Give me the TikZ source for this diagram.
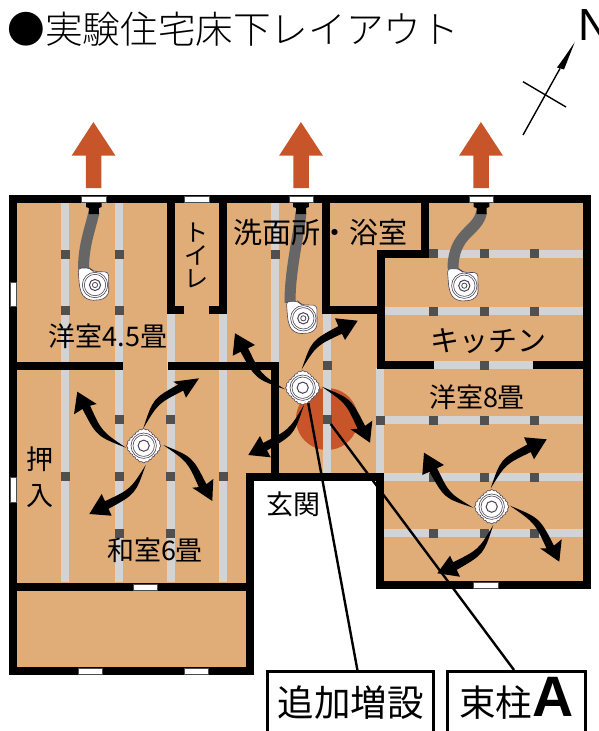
\documentclass[tikz,border=0pt]{standalone}
\usepackage{fontspec}
\usetikzlibrary{calc}
\setmainfont{Noto Sans CJK JP}
\newfontfamily\titlefont{Noto Sans CJK JP Light}
\newfontfamily\latinfont{Liberation Sans}
\definecolor{floortan}{HTML}{E0AC78}
\definecolor{ventred}{HTML}{C85529}
\definecolor{beamgray}{HTML}{D3D3D3}
\definecolor{postgray}{HTML}{505050}
\definecolor{hosegray}{HTML}{666666}
\definecolor{ringgray}{HTML}{4A4454}
\tikzset{
    wall/.style={draw=black,line width=8pt,line join=miter},
    beam/.style={draw=beamgray,line width=8pt},
    post/.style={draw=postgray,line width=9pt},
    window/.style={draw=black!70,line width=0.5pt,fill=white},
    vent/.style={fill=ventred},
    hose/.style={draw=hosegray,line width=11pt},
    room/.style={inner sep=0pt,font=\fontsize{27}{32}\selectfont},
    tallroom/.style={inner sep=0pt,align=center,font=\fontsize{27}{36}\selectfont},
    callout/.style={draw=black,line width=3pt,inner sep=0pt,anchor=north west,align=center,
        text height=45pt,text depth=33pt,font=\fontsize{36.5}{40}\selectfont},
    leader/.style={draw=black,line width=2.4pt},
    fanring/.style={draw=ringgray,line width=0.6pt},
    nozzle/.pic={
        \fill[black] (-7.8,0)--(7.8,0)--(7.8,4)--(5,5)--(5,11)--(-5,11)--(-5,5)--(-7.8,4)--cycle;
    },
    swirlfan/.pic={
        \draw[fill=white,draw=ringgray,line width=0.6pt] plot[smooth cycle,variable=\t,domain=0:352.5,samples=48]
            (\t:{15.6+1.1*cos(4*\t)+0.5*cos(24*\t)});
        \draw[fanring] (0,0) circle (12.7pt);
        \draw[fanring] (0,0) circle (10.7pt);
        \draw[fanring,line width=1pt] (0,0) circle (5.6pt);
    },
    hosefan/.pic={
        \draw[fill=white,draw=ringgray,line width=0.6pt,rounded corners=3.5pt]
            (-17,-17)--(-5,-17)--(-2,-13.5)--(13.5,-13)--(13.8,9)--(8,14.5)--(-5,15.5)--(-12.5,11)--(-15.5,2)--cycle;
        \draw[fanring] (0,0) circle (12.7pt);
        \draw[fanring] (0,0) circle (10.7pt);
        \draw[fanring,line width=1pt] (0,0) circle (5.6pt);
        \draw[fanring,line width=0.8pt] (0,0) circle (2.6pt);
    }
}
% tail, neck, outer barb, tip, inner barb
\newcommand{\airflow}[5]{
    \fill[black] #1 .. controls ($#1!0.5!#2!13pt!90:#2$) .. ($#2!4.2pt!#3$)
        --#3--#4--#5--($#2!4.2pt!#5$) .. controls ($#1!0.5!#2!6pt!90:#2$) .. #1--cycle;
}
\begin{document}
\begin{tikzpicture}[x=1pt,y=-1pt]
    \useasboundingbox (0,0) rectangle (598,731);
    \clip (0,0) rectangle (598,731);

    % floor
    \fill[floortan] (13,199)--(587,199)--(587,585)--(380,585)--(380,477)--(250,477)--(250,671)--(13,671)--cycle;
    \fill[ventred] (327,419) circle (31pt);

    % beams
    \draw[beam] (65,203)--(65,582);
    \draw[beam] (119,203)--(119,582);
    \draw[beam] (170.7,313)--(170.7,582);
    \draw[beam] (223,313)--(223,582);
    \draw[beam] (275,203)--(275,362);
    \draw[beam] (327,313)--(327,473);
    \draw[beam] (380,368)--(380,473);
    \draw[beam] (428,253.5)--(583,253.5);
    \draw[beam] (384,311.3)--(583,311.3);
    \draw[beam] (434,365)--(533,365);
    \draw[beam] (384,420)--(583,420);
    \draw[beam] (384,477)--(583,477);
    \draw[beam] (384,533)--(583,533);

    % posts
    \draw[post] (60.5,254.5)--+(9,0);
    \draw[post] (114.5,254.5)--+(9,0);
    \draw[post] (270.5,254.5)--+(9,0);
    \draw[post] (60.5,310.5)--+(9,0);
    \draw[post] (114.5,310.5)--+(9,0);
    \draw[post] (114.5,419.5)--+(9,0);
    \draw[post] (166,419.5)--+(9,0);
    \draw[post] (60.5,476.5)--+(9,0);
    \draw[post] (114.5,476.5)--+(9,0);
    \draw[post] (166,476.5)--+(9,0);
    \draw[post] (218.7,476.5)--+(9,0);
    \draw[post] (114.5,533.5)--+(9,0);
    \draw[post] (166,533.5)--+(9,0);
    \draw[post] (322.5,365)--+(9,0);
    \draw[post] (322.5,419.5)--+(9,0);
    \draw[post] (429,253.5)--+(9,0);
    \draw[post] (480,253.5)--+(9,0);
    \draw[post] (530,253.5)--+(9,0);
    \draw[post] (429,311.3)--+(9,0);
    \draw[post] (480,311.3)--+(9,0);
    \draw[post] (530,311.3)--+(9,0);
    \draw[post] (480,365)--+(9,0);
    \draw[post] (375.5,420)--+(9,0);
    \draw[post] (429,420)--+(9,0);
    \draw[post] (480,420)--+(9,0);
    \draw[post] (530,420)--+(9,0);
    \draw[post] (429,477)--+(9,0);
    \draw[post] (480,477)--+(9,0);
    \draw[post] (530,477)--+(9,0);
    \draw[post] (429,533)--+(9,0);
    \draw[post] (480,533)--+(9,0);
    \draw[post] (530,533)--+(9,0);

    % walls
    \draw[wall] (13.3,199.3)--(587.3,199.3)--(587.3,585.3)--(380,585.3)--(380,477)--(250,477)--(250,671.3)--(13.3,671.3)--cycle;
    \draw[wall] (13.3,586.7)--(250,586.7);
    \draw[wall] (13.3,366.3)--(123.3,366.3);
    \draw[wall] (168.3,366.3)--(274.5,366.3)--(274.5,477);
    \draw[wall] (170.7,199.3)--(170.7,309.5)--(184.3,309.5);
    \draw[wall] (223.3,199.3)--(223.3,309.5)--(209,309.5);
    \draw[wall] (326.4,199.3)--(326.4,309.5)--(380.5,309.5);
    \draw[wall] (424.8,199.3)--(424.8,253.7)--(380.5,253.7)--(380.5,364.7)--(434,364.7);
    \draw[wall] (533.3,364.7)--(587.3,364.7);

    % windows
    \draw[window] (81.7,196.3) rectangle (106,202.3);
    \draw[window] (184.3,196.3) rectangle (209,202.3);
    \draw[window] (289,196.3) rectangle (313.5,202.3);
    \draw[window] (469,196.3) rectangle (493.5,202.3);
    \draw[window] (10.7,282.3) rectangle (16.7,306);
    \draw[window] (10.7,477.7) rectangle (16.7,502);
    \draw[window] (133.5,584) rectangle (157.5,590);
    \draw[window] (78,668.7) rectangle (102,674.7);
    \draw[window] (184,668.7) rectangle (208,674.7);
    \draw[window] (473.7,582.5) rectangle (498,588.3);

    % vent arrows
    \fill[vent] (93.4,122)--(115.5,155.7)--(101.4,155.7)--(101.4,188)--(85.8,188)--(85.8,155.7)--(71.6,155.7)--cycle;
    \fill[vent,xshift=207.5pt] (93.4,122)--(115.5,155.7)--(101.4,155.7)--(101.4,188)--(85.8,188)--(85.8,155.7)--(71.6,155.7)--cycle;
    \fill[vent,xshift=387.5pt] (93.4,122)--(115.5,155.7)--(101.4,155.7)--(101.4,188)--(85.8,188)--(85.8,155.7)--(71.6,155.7)--cycle;

    % hoses and fans
    \draw[hose] (94,212) .. controls (90,230) and (83.5,245) .. (83.5,269);
    \draw[hose] (301,212) .. controls (298,240) and (290,270) .. (290,303);
    \draw[hose] (481.5,212) .. controls (478,232) and (453,232) .. (453,269);
    \pic (ductW) at (93.8,203) {nozzle};
    \pic (ductC) at (301,203) {nozzle};
    \pic (ductE) at (481.5,203) {nozzle};
    \pic (fanW) at (95,285) {hosefan};
    \pic (fanC) at (303.3,318.3) {hosefan};
    \pic (fanE) at (464.3,285.7) {hosefan};
    \pic (swirlW) at (143.7,445.7) {swirlfan};
    \pic (swirlC) at (302.7,387.7) {swirlfan};
    \pic (swirlE) at (491.7,506.7) {swirlfan};

    % air flow
    \airflow{(126,447.7)}{(86,406.7)}{(74,414.3)}{(77.3,391.7)}{(96.7,404)}
    \airflow{(143.3,428.3)}{(181.7,386.7)}{(173.3,381.7)}{(199,378.3)}{(186,397.7)}
    \airflow{(163.3,445)}{(203,486.7)}{(213.3,479)}{(212.3,501)}{(192.3,487.7)}
    \airflow{(145.7,465)}{(106.7,505)}{(111.7,515.7)}{(89.3,514)}{(101.7,494)}
    \airflow{(285,389.3)}{(244.3,350)}{(232.7,355.7)}{(235,333.3)}{(255,345)}
    \airflow{(301.7,369.3)}{(340,330)}{(335,318.3)}{(357.7,320.7)}{(345,340)}
    \airflow{(321.7,386.7)}{(361.7,428.3)}{(372.3,420.7)}{(370,442.7)}{(350.7,429.3)}
    \airflow{(304,405)}{(265,446.7)}{(270.7,457.3)}{(248.3,455)}{(260,436)}
    \airflow{(473.3,507.7)}{(433.3,470)}{(422.3,475)}{(424,452.7)}{(444,465)}
    \airflow{(490.7,488.3)}{(529,448.3)}{(524,437.3)}{(546.7,439.3)}{(534,459.3)}
    \airflow{(510,505.7)}{(550.7,548.3)}{(561.7,539.3)}{(559.3,561.7)}{(540,548.3)}
    \airflow{(493.3,525)}{(455,566)}{(460,576.7)}{(437.3,573.3)}{(450,555.7)}

    % title and north mark
    \node[inner sep=0pt,anchor=west,font=\titlefont\fontsize{37.6}{38}\selectfont] (title) at (7.5,29.5) {●実験住宅床下レイアウト};
    \node[inner sep=0pt,anchor=west,font=\latinfont\fontsize{45}{45}\selectfont] (north) at (578,25) {N};
    \coordinate (needletail) at (523,135);
    \coordinate (needletip) at (574.7,42.3);
    \draw[line width=1.4pt] (523,81.7)--(566,107);
    \draw[line width=1.4pt] (needletail)--(560,68.5);
    \fill[black] (needletip)--(563.5,58.5)--(557,67.5)--(564,69.5)--cycle;

    % rooms
    \node[room] (west) at (108,336) {洋室4.5畳};
    \node[room,font=\fontsize{24}{24}\selectfont,align=center] (toilet) at (196.5,255) {ト\\[-1pt]イ\\[-1pt]レ};
    \node[room,font=\fontsize{29}{32}\selectfont] (bath) at (320,232) {洗面所・浴室};
    \node[room,font=\fontsize{29}{32}\selectfont] (kitchen) at (488,341.5) {キッチン};
    \node[room] (east) at (477,397) {洋室8畳};
    \node[tallroom] (closet) at (39.5,477) {押\\入};
    \node[room] (washitsu) at (155,550.5) {和室6畳};
    \node[room] (entry) at (293,504.5) {玄関};

    % callouts
    \node[callout,minimum width=166pt] (addbox) at (266,670) {追加増設};
    \node[callout,minimum width=138pt] (postbox) at (446,670) {束柱{\latinfont\bfseries\fontsize{57}{57}\selectfont A}};
    \coordinate (addfoot) at (357.4,670);
    \coordinate (postfoot) at (514,670);
    \coordinate (addend) at (308.3,403.3);
    \coordinate (postend) at (330.7,424);
    \draw[leader] (addfoot)--(addend);
    \draw[leader] (postfoot)--(postend);
\end{tikzpicture}
\end{document}
